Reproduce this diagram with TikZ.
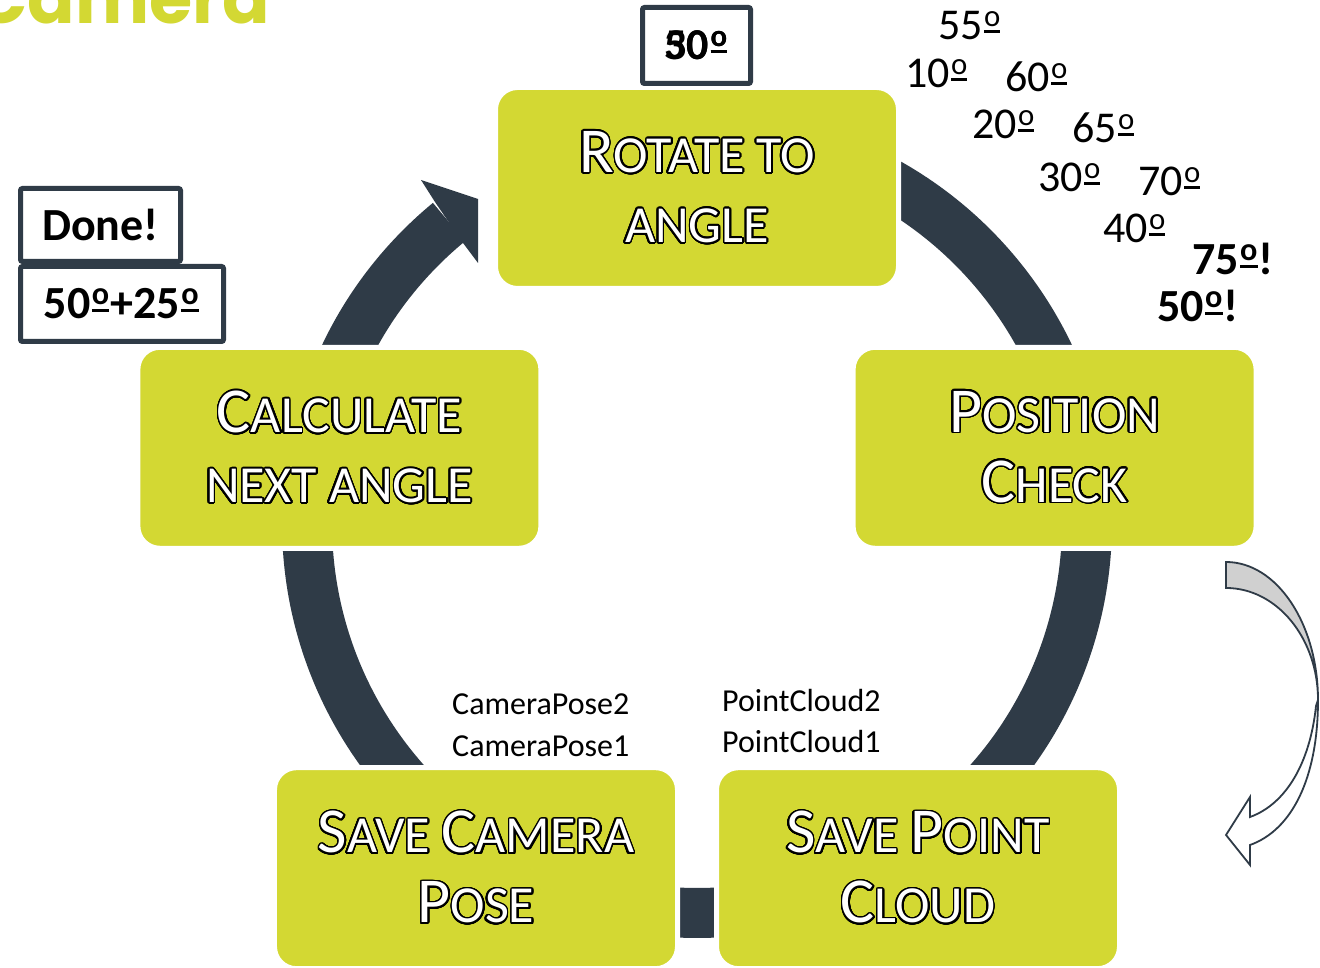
\documentclass[tikz,border=0pt]{standalone}
\usepackage{fontspec}
\setmainfont{Carlito}
\newfontfamily\titlefont{Poppins}
\usepackage[copies]{contour}
\contourlength{1.6pt}
\contournumber{32}
\usetikzlibrary{calc}
\definecolor{stagegreen}{HTML}{D3D833}
\definecolor{ringdark}{HTML}{2F3B47}
\definecolor{facegray}{HTML}{D0D0D0}
\newcommand{\capinit}[1]{{\fontsize{64}{70}\selectfont #1}}
\newcommand{\outl}[1]{\contour{black}{#1}}
% ordinal sign with its bar
\newcommand{\ordm}{\kern0.03em\raisebox{0.16em}{\vbox{\hbox{\scalebox{0.7}{o}}\kern0.08em\hrule height 0.06em}}\kern0.03em}

\begin{document}
\begin{tikzpicture}[x=1pt, y=1pt,
    stage/.style={rectangle, rounded corners=22pt, fill=stagegreen, draw=white, line width=5pt,
                  minimum width=403pt, minimum height=201pt, inner sep=0pt, text=white,
                  align=center, font=\fontsize{52}{70}\selectfont},
    ring/.style={draw=ringdark, line width=50pt},
    tagbox/.style={rectangle, draw=ringdark, fill=white, line width=5pt, rounded corners=2pt,
                   inner sep=0pt, font=\fontsize{46}{50}\selectfont\bfseries},
    degtext/.style={anchor=base west, inner sep=0pt, font=\fontsize{44}{50}\selectfont},
    store/.style={anchor=base west, inner sep=0pt, font=\fontsize{32}{36}\selectfont}
]
\useasboundingbox (0,0) rectangle (1320,968);
\coordinate (hub) at (697,445);
\coordinate (pent) at (697,404);

% title, cut by the page edge
\node[anchor=base east, inner sep=0pt, text=stagegreen,
      font=\fontsize{70}{70}\selectfont\titlefont\bfseries] (title) at (270,944) {Camera};

% cycle ring with its head
\draw[ring] ($(hub)+(129.5:390)$) arc[start angle=129.5, end angle=450, radius=390];
\fill[ringdark] (435,766) -- (421,788) -- (478,769) -- (478,705) -- (463,725) -- cycle;

% stages
\node[stage] (rotate) at ($(pent)+(90:376)$) {\outl{\capinit{R}OTATE TO}\\\outl{ANGLE}};
\node[stage] (position) at ($(pent)+(18:376)$) {\outl{\capinit{P}OSITION}\\\outl{\capinit{C}HECK}};
\node[stage] (cloud) at ($(pent)+(-54:376)$) {\outl{\capinit{S}AVE \capinit{P}OINT}\\\outl{\capinit{C}LOUD}};
\node[stage] (pose) at ($(pent)+(234:376)$) {\outl{\capinit{S}AVE \capinit{C}AMERA}\\\outl{\capinit{P}OSE}};
\node[stage] (calc) at ($(pent)+(162:376)$) {\outl{\capinit{C}ALCULATE}\\\outl{NEXT ANGLE}};

% stored results
\node[store] (pose2) at (452,253) {CameraPose2};
\node[store] (pose1) at (452,211) {CameraPose1};
\node[store] (cloud2) at (722,256) {PointCloud2};
\node[store] (cloud1) at (722,215) {PointCloud1};

% angles tried
\node[degtext] (a55) at (938,928) {55\ordm};
\node[degtext] (a10) at (905,880) {10\ordm};
\node[degtext] (a60) at (1005,876) {60\ordm};
\node[degtext] (a20) at (972,829) {20\ordm};
\node[degtext] (a65) at (1072,825) {65\ordm};
\node[degtext] (a30) at (1038,776) {30\ordm};
\node[degtext] (a70) at (1138,772) {70\ordm};
\node[degtext] (a40) at (1103,725) {40\ordm};
\node[degtext, font=\fontsize{46}{50}\selectfont\bfseries] (a75) at (1192,693) {75\ordm!};
\node[degtext, font=\fontsize{46}{50}\selectfont\bfseries] (a50) at (1157,646) {50\ordm!};

% tags
\node[tagbox, minimum width=108pt, minimum height=76pt] (current) at (696.5,922.5) {};
\node[font=\fontsize{44}{50}\selectfont\bfseries, inner sep=0pt] (cur30) at (current) {30\ordm};
\node[font=\fontsize{44}{50}\selectfont\bfseries, inner sep=0pt] (cur50) at (current) {50\ordm};
\node[tagbox, minimum width=160pt, minimum height=73pt] (done) at (100.5,743) {Done!};
\node[tagbox, minimum width=203pt, minimum height=75pt] (sum) at (122,664) {50\ordm+25\ordm};

% turning arrow
\filldraw[draw=ringdark, fill=facegray, line width=1.8pt] (1226,406)
    arc[start angle=90, end angle=0, x radius=92, y radius=138]
    arc[start angle=0, end angle=90, x radius=92, y radius=112] -- cycle;
\filldraw[draw=ringdark, fill=white, line width=1.8pt] (1318,268)
    .. controls (1318,190) and (1292,138) .. (1250,123) -- (1250,103) -- (1226,133)
    -- (1250,171) -- (1250,151) .. controls (1286,164) and (1310,205) .. (1316,262) -- cycle;
\end{tikzpicture}
\end{document}
